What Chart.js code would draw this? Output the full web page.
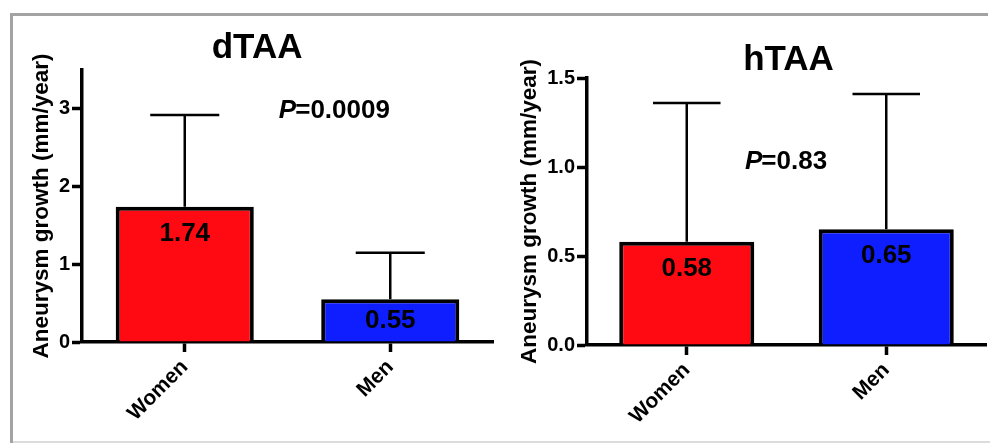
<!DOCTYPE html>
<html><head><meta charset="utf-8">
<script src="https://cdn.jsdelivr.net/npm/chart.js@4.4.1/dist/chart.umd.min.js"></script>
<style>
html,body{margin:0;padding:0;background:#fff;width:990px;height:443px;overflow:hidden;position:relative}
.frame{position:absolute}
.wrap{position:absolute;top:0;width:495px;height:443px}
</style></head><body>
<div class="frame" style="left:10px;top:13px;width:978px;height:3px;background:#a3a3a3"></div>
<div class="frame" style="left:10px;top:13px;width:3px;height:430px;background:#a3a3a3"></div>
<div class="frame" style="left:13px;top:441px;width:977px;height:2px;background:#dcdcdc"></div>
<div class="wrap" style="left:0"><canvas id="c1" width="495" height="443"></canvas></div>
<div class="wrap" style="left:495px"><canvas id="c2" width="495" height="443"></canvas></div>
<script>
// ---- data ----
const categories = ['Women', 'Men'];
const barColors = ['#ff0a12', '#0f1eff'];
const dTAAMeans = [1.74, 0.55];
const dTAASD = [1.18, 0.60];
const hTAAMeans = [0.58, 0.65];
const hTAASD = [0.78, 0.76];
const dTAATicks = [0, 1, 2, 3];
const dTAATickLabels = ['0', '1', '2', '3'];
const hTAATicks = [0, 0.5, 1.0, 1.5];
const hTAATickLabels = ['0.0', '0.5', '1.0', '1.5'];
const pValues = ['0.0009', '0.83'];
const titles = ['dTAA', 'hTAA'];
const yTitle = 'Aneurysm growth (mm/year)';

const FAM = '"Liberation Sans", Arial, Helvetica, sans-serif';
Chart.defaults.font.family = FAM;
Chart.defaults.color = '#000';

const overlay = {
  id: 'overlay',
  afterDatasetsDraw(chart, args, o) {
    const ctx = chart.ctx, y = chart.scales.y, a = chart.chartArea;
    const meta = chart.getDatasetMeta(0);
    const ds = chart.data.datasets[0];
    ctx.save();
    meta.data.forEach((bar, i) => {
      const v = ds.data[i], sd = o.sd[i];
      const px = bar.x;
      const base = y.getPixelForValue(v), top = y.getPixelForValue(v + sd);
      const half = bar.width * o.capFrac / 2;
      ctx.strokeStyle = '#000';
      ctx.lineWidth = o.errWidth;
      ctx.beginPath();
      ctx.moveTo(px, base); ctx.lineTo(px, top);
      ctx.moveTo(px - half, top); ctx.lineTo(px + half, top);
      ctx.stroke();
      const off = Math.min(o.labelOffset, (y.getPixelForValue(0) - base) / 2);
      ctx.fillStyle = '#000';
      ctx.font = 'bold 26px ' + FAM;
      ctx.textAlign = 'center';
      ctx.textBaseline = 'middle';
      ctx.fillText(v.toFixed(2), px, base + off);
    });
    ctx.fillStyle = '#000';
    ctx.textBaseline = 'middle';
    ctx.textAlign = 'center';
    ctx.font = 'bold 35px ' + FAM;
    ctx.fillText(o.title, a.left + o.titleFrac * a.width, o.titleY);
    ctx.textAlign = 'left';
    const px0 = a.left + o.pFrac * a.width, py = y.getPixelForValue(o.pAt);
    ctx.font = 'italic bold 26px ' + FAM;
    ctx.fillText('P', px0, py);
    const w = ctx.measureText('P').width;
    ctx.font = 'bold 26px ' + FAM;
    ctx.fillText('=' + o.p, px0 + w - 1, py);
    ctx.restore();
  }
};

function makeChart(id, means, sds, ticks, tickLabels, max, o) {
  return new Chart(document.getElementById(id), {
    type: 'bar',
    data: {
      labels: categories,
      datasets: [{
        data: means,
        backgroundColor: barColors,
        borderColor: '#000',
        borderWidth: 4,
        barPercentage: o.barPct,
        categoryPercentage: 1
      }]
    },
    options: {
      responsive: false,
      animation: false,
      devicePixelRatio: 1,
      layout: { padding: { top: o.top, right: o.right, left: 0, bottom: 0 } },
      plugins: {
        legend: { display: false },
        tooltip: { enabled: false },
        overlay: {
          sd: sds, capFrac: 0.5, errWidth: 2.5, labelOffset: 27,
          title: o.title, titleFrac: o.titleFrac, titleY: o.titleY,
          p: o.p, pFrac: o.pFrac, pAt: o.pAt
        }
      },
      scales: {
        x: {
          afterFit(s) { s.height = o.xh; },
          grid: { offset: false, drawOnChartArea: false, drawTicks: true, tickLength: 10, tickWidth: 3.5, tickColor: '#000' },
          border: { display: true, color: '#000', width: 3.5 },
          ticks: { font: { size: 21, weight: 'bold' }, color: '#000', minRotation: 45, maxRotation: 45, padding: 3 }
        },
        y: {
          min: 0, max: max,
          afterFit(s) { s.width = o.yw; },
          afterBuildTicks(s) { s.ticks = ticks.map(v => ({ value: v })); },
          grid: { drawOnChartArea: false, drawTicks: true, tickLength: 10, tickWidth: 3.5, tickColor: '#000' },
          border: { display: true, color: '#000', width: 3.5 },
          ticks: {
            font: { size: 20, weight: 'bold' }, color: '#000', padding: 2,
            callback(v) { const i = ticks.indexOf(v); return i >= 0 ? tickLabels[i] : ''; }
          },
          title: {
            display: true, text: yTitle, color: '#000',
            font: { size: 22.5, weight: 'bold' },
            padding: { top: o.ytPad, bottom: 0 }
          }
        }
      }
    },
    plugins: [overlay]
  });
}

makeChart('c1', dTAAMeans, dTAASD, dTAATicks, dTAATickLabels, 3.5, {
  barPct: 0.672, top: 70, right: 2, xh: 101, yw: 82, ytPad: 28.5,
  title: titles[0], titleFrac: 0.426, titleY: 48, p: pValues[0], pFrac: 0.479, pAt: 2.97
});
makeChart('c2', hTAAMeans, hTAASD, hTAATicks, hTAATickLabels, 1.5, {
  barPct: 0.677, top: 78, right: 4, xh: 98, yw: 92, ytPad: 21.5,
  title: titles[1], titleFrac: 0.505, titleY: 60, p: pValues[1], pFrac: 0.396, pAt: 1.03
});
</script>
</body></html>
